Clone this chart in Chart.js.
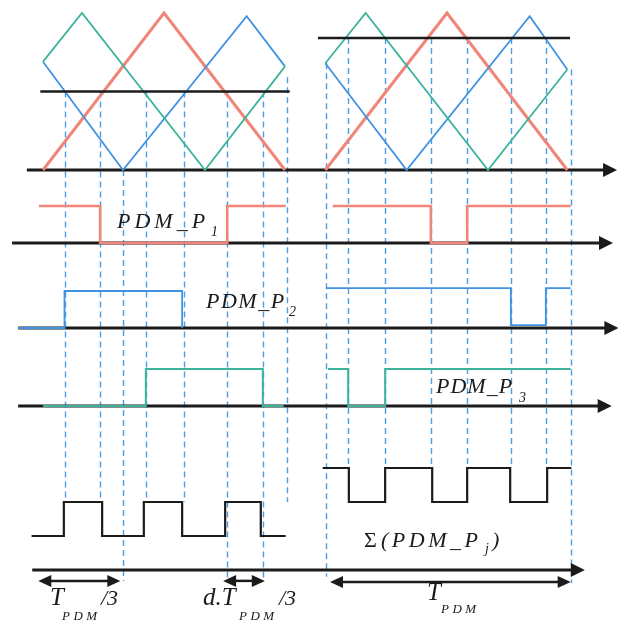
<!DOCTYPE html>
<html>
<head>
<meta charset="utf-8">
<script src="https://cdn.jsdelivr.net/npm/chart.js@4/dist/chart.umd.min.js"></script>
<style>
  html, body { margin: 0; padding: 0; background: #fff; }
  #wrap { width: 618px; height: 627px; position: relative; }
</style>
</head>
<body>
<div id="wrap"><canvas id="chart"></canvas></div>
<script>
// time is in carrier degrees: one T_PDM = 360, right panel starts at 420
// carriers (normalised 0..1)
const redL_t = [0, 180, 360],            redL_v = [0, 1, 0];
const redR_t = [420, 601, 780],          redR_v = [0, 1, 0];
const greenL_t = [0, 58, 241, 360],      greenL_v = [0.69, 1, 0, 0.66];
const greenR_t = [420, 480, 662, 780],   greenR_v = [0.68, 1, 0, 0.64];
const blueL_t = [0, 119, 303, 360],      blueL_v = [0.69, 0, 0.98, 0.66];
const blueR_t = [420, 541, 724, 780],    blueR_v = [0.68, 0, 0.98, 0.64];

// reference (duty) levels
const refL_t = [-4, 367], refL_v = [0.5, 0.5];
const refR_t = [409, 784], refR_v = [0.84, 0.84];

// PDM outputs (value holds from its time on)
const p1L_t = [-6, 85, 274, 361],        p1L_v = [1, 0, 1, 1];
const p1R_t = [431, 577, 631, 785],      p1R_v = [1, 0, 1, 1];
const p2L_t = [-37, 32, 207],            p2L_v = [0, 1, 0];
const p2R_t = [421, 696, 748, 785],      p2R_v = [1.08, 0.08, 1.08, 1.08];
const p3L_t = [0, 153, 327, 358],        p3L_v = [0, 1, 0, 0];
const p3R_t = [424, 454, 509, 785],      p3R_v = [1, 0, 1, 1];

// sum of the three outputs
const sumL_t = [-17, 31, 88, 150, 207, 271, 324, 361], sumL_v = [1, 2, 1, 2, 1, 2, 1, 1];
const sumR_t = [416, 455, 509, 579, 631, 695, 750, 786], sumR_v = [3, 2, 3, 2, 3, 2, 3, 3];

// dashed switching instants: top on carrier lane, bottom on sum lane
const dashT   = [32, 85, 119, 153, 210, 273, 327, 363, 421, 454, 509, 577, 631, 696, 748, 785];
const dashTop = [0.5, 0.5, 0, 0.5, 0.5, 0.5, 0.5, 0.59, 0.68, 0.84, 0.84, 0.84, 0.84, 0.84, 0.84, 0.64];
const dashBot = [2, 2, -0.32, 2, 2, -0.32, -0.32, 2, -0.2, 3, 3, 3, 3, 3, 3, -0.38];

// dimension arrows (time spans)
const dimFrom = [-7, 268, 427], dimTo = [115, 330, 785], dimLevel = [-0.32, -0.32, -0.35];

// axis spans per lane
const axisLanes = ['car', 'p1', 'p2', 'p3', 'sum'];
const axisFrom = [-24, -46, -37, -37, -16], axisTo = [854, 848, 856, 846, 806];

const RED = '#f0857a', GREEN = '#3db39b', BLUE = '#3f93e2', INK = '#1b1b1b';

function lane(p0, p1) {
  const H = 627, min = (p0 - H) / (p0 - p1);
  return { min, max: min + H / (p0 - p1), display: false };
}
const pts = (ts, vs) => ts.map((t, i) => ({ x: t, y: vs[i] }));
function ds(ts, vs, axis, color, width, stepped) {
  return { data: pts(ts, vs), yAxisID: axis, borderColor: color, borderWidth: width,
    pointRadius: 0, fill: false, tension: 0, stepped: stepped ? 'before' : false, clip: false };
}

const arrow = (ctx, x, y, dir, len, half) => {
  ctx.beginPath(); ctx.moveTo(x, y);
  ctx.lineTo(x - dir * len, y - half); ctx.lineTo(x - dir * len, y + half);
  ctx.closePath(); ctx.fill();
};

// italic serif text, letter by letter with extra spacing
function txt(ctx, s, x, y, size, gap, upright) {
  ctx.font = (upright ? '' : 'italic ') + size + 'px "Liberation Serif"';
  for (const ch of s) {
    ctx.fillText(ch, x, y);
    x += ctx.measureText(ch).width + (gap || 0);
  }
  return x;
}

const diagram = {
  id: 'diagram',
  beforeDatasetsDraw(chart) {
    const { ctx, scales } = chart, xs = scales.x;
    ctx.save();
    ctx.strokeStyle = '#4d9de6'; ctx.lineWidth = 1.4; ctx.setLineDash([6, 4]);
    dashT.forEach((t, i) => {
      const x = Math.round(xs.getPixelForValue(t)) + 0.5;
      ctx.beginPath();
      ctx.moveTo(x, scales.car.getPixelForValue(dashTop[i]));
      ctx.lineTo(x, scales.sum.getPixelForValue(dashBot[i]));
      ctx.stroke();
    });
    ctx.setLineDash([]);
    ctx.strokeStyle = INK; ctx.fillStyle = INK; ctx.lineWidth = 3;
    axisLanes.forEach((id, i) => {
      const y = scales[id].getPixelForValue(0);
      const x0 = xs.getPixelForValue(axisFrom[i]), x1 = xs.getPixelForValue(axisTo[i]);
      ctx.beginPath(); ctx.moveTo(x0, y); ctx.lineTo(x1 - 10, y); ctx.stroke();
      arrow(ctx, x1, y, 1, 14, 7);
    });
    ctx.restore();
  },
  afterDatasetsDraw(chart) {
    const { ctx, scales } = chart, xs = scales.x;
    ctx.save();
    ctx.strokeStyle = INK; ctx.fillStyle = INK; ctx.lineWidth = 2.5;
    dimFrom.forEach((t, i) => {
      const y = scales.sum.getPixelForValue(dimLevel[i]);
      const a = xs.getPixelForValue(t), b = xs.getPixelForValue(dimTo[i]);
      ctx.beginPath(); ctx.moveTo(a + 8, y); ctx.lineTo(b - 8, y); ctx.stroke();
      arrow(ctx, a, y, -1, 13, 6); arrow(ctx, b, y, 1, 13, 6);
    });
    ctx.textBaseline = 'alphabetic';
    txt(ctx, 'PDM_P', 117, 228, 22, 4); txt(ctx, '1', 211, 236, 14);
    txt(ctx, 'PDM_P', 206, 308, 22, 1.5); txt(ctx, '2', 289, 316, 14);
    txt(ctx, 'PDM_P', 436, 393, 22, 1); txt(ctx, '3', 519, 402, 14);
    txt(ctx, '\u03A3', 364, 547, 22, 0, true);
    txt(ctx, '(PDM_P', 381, 547, 22, 3.5); txt(ctx, 'j', 485, 553, 14); txt(ctx, ')', 492, 547, 22);
    txt(ctx, 'T', 50, 605, 25); txt(ctx, 'PDM', 62, 620, 13, 3.5); txt(ctx, '/3', 101, 605, 22);
    txt(ctx, 'd.T', 203, 605, 25); txt(ctx, 'PDM', 239, 620, 13, 3.5); txt(ctx, '/3', 279, 605, 22);
    txt(ctx, 'T', 427, 600, 25); txt(ctx, 'PDM', 441, 613, 13, 3.5);
    ctx.restore();
  }
};

new Chart(document.getElementById('chart'), {
  type: 'line',
  data: {
    datasets: [
      ds(refL_t, refL_v, 'car', INK, 2.5), ds(refR_t, refR_v, 'car', INK, 2.5),
      ds(greenL_t, greenL_v, 'car', GREEN, 1.8), ds(greenR_t, greenR_v, 'car', GREEN, 1.8),
      ds(blueL_t, blueL_v, 'car', BLUE, 1.8), ds(blueR_t, blueR_v, 'car', BLUE, 1.8),
      ds(redL_t, redL_v, 'car', RED, 3), ds(redR_t, redR_v, 'car', RED, 3),
      ds(p1L_t, p1L_v, 'p1', RED, 2.6, true), ds(p1R_t, p1R_v, 'p1', RED, 2.6, true),
      ds(p2L_t, p2L_v, 'p2', BLUE, 1.8, true), ds(p2R_t, p2R_v, 'p2', BLUE, 1.8, true),
      ds(p3L_t, p3L_v, 'p3', GREEN, 2, true), ds(p3R_t, p3R_v, 'p3', GREEN, 2, true),
      ds(sumL_t, sumL_v, 'sum', INK, 2.2, true), ds(sumR_t, sumR_v, 'sum', INK, 2.2, true)
    ]
  },
  options: {
    responsive: true, maintainAspectRatio: false, animation: false,
    layout: { padding: 0 },
    plugins: { legend: { display: false }, tooltip: { enabled: false } },
    scales: {
      x: { type: 'linear', min: -63.97, max: 855.4, display: false },
      car: lane(170, 13),
      p1: lane(243, 206),
      p2: lane(328, 291),
      p3: lane(406, 369),
      sum: lane(570, 536)
    }
  },
  plugins: [diagram]
});
</script>
</body>
</html>
